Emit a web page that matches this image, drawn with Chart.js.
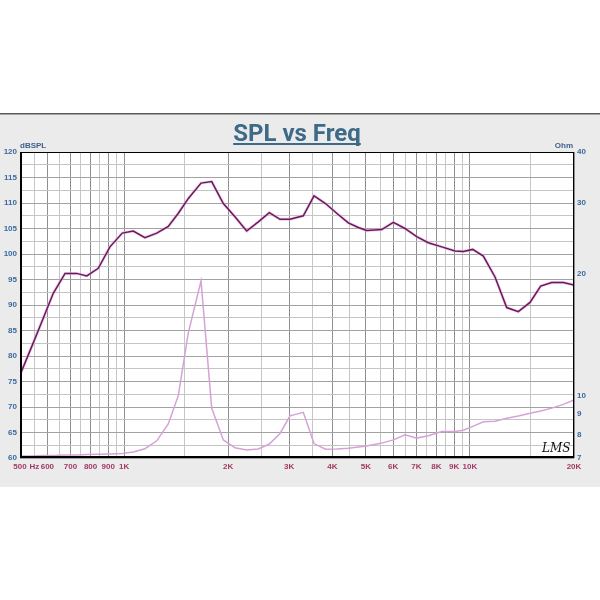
<!DOCTYPE html>
<html>
<head>
<meta charset="utf-8">
<script src="https://cdn.jsdelivr.net/npm/chart.js@4.4.1/dist/chart.umd.min.js"></script>
<style>
html,body{margin:0;padding:0;background:#fff;}
#c{display:block;}
</style>
</head>
<body>
<canvas id="c" width="600" height="600"></canvas>
<script>
// ---- data ----
const freqs = [500, 538, 579, 624, 675, 729, 780, 842, 910, 988, 1063, 1149, 1243, 1342, 1435, 1534, 1669, 1792, 1936, 2092, 2262, 2444, 2630, 2824, 3018, 3298, 3542, 3823, 4119, 4450, 4757, 5030, 5559, 6006, 6490, 7018, 7580, 8292, 9057, 9572, 10190, 10935, 11820, 12776, 13803, 14922, 16020, 17241, 18626, 20000];
const splValues = [76.3, 81.5, 86.8, 92.3, 96.2, 96.2, 95.7, 97.2, 101.4, 104.1, 104.5, 103.2, 104.1, 105.4, 108.0, 110.9, 113.9, 114.2, 109.9, 107.3, 104.5, 106.3, 108.1, 106.8, 106.8, 107.5, 111.4, 109.9, 108.0, 106.1, 105.2, 104.6, 104.8, 106.2, 105.0, 103.4, 102.2, 101.4, 100.6, 100.5, 100.9, 99.6, 95.5, 89.5, 88.7, 90.5, 93.7, 94.4, 94.4, 93.9];
const impedanceValues = [7.08, 7.08, 7.1, 7.1, 7.12, 7.12, 7.14, 7.15, 7.16, 7.18, 7.24, 7.38, 7.72, 8.5, 10.0, 14.3, 19.2, 9.3, 7.76, 7.42, 7.33, 7.37, 7.58, 8.05, 8.9, 9.08, 7.6, 7.36, 7.37, 7.4, 7.45, 7.5, 7.62, 7.76, 7.99, 7.84, 7.95, 8.14, 8.14, 8.2, 8.38, 8.6, 8.63, 8.78, 8.89, 9.03, 9.15, 9.3, 9.5, 9.75];
const xTicks = [500,550,600,650,700,750,800,850,900,950,1000,1500,2000,2500,3000,3500,4000,4500,5000,5500,6000,6500,7000,7500,8000,8500,9000,9500,10000,15000,20000];
const xTickLabels = ['500','Hz','600','','700','','800','','900','','1K','','2K','','3K','','4K','','5K','','6K','','7K','','8K','','9K','','10K','','20K'];
const ohmTicks = [7,8,9,10,20,30,40];
const titleText = 'SPL vs Freq';
const leftUnit = 'dBSPL';
const rightUnit = 'Ohm';
const signature = 'LMS';

const splPts = freqs.map((f,i)=>({x:f,y:splValues[i]}));
const impPts = freqs.map((f,i)=>({x:f,y:impedanceValues[i]}));

const FONT = 'Liberation Sans, Arial, sans-serif';
const blue = '#3b6aa0';
const maroon = '#a23a66';

const decor = {
  id:'decor',
  beforeDraw(chart){
    const ctx = chart.ctx, a = chart.chartArea;
    ctx.save();
    ctx.fillStyle='#ffffff'; ctx.fillRect(0,0,600,600);
    ctx.fillStyle='#ebebeb'; ctx.fillRect(0,114,600,373);
    ctx.fillStyle='#5a5a5a'; ctx.fillRect(0,113,600,1.5);
    ctx.fillStyle='#ffffff'; ctx.fillRect(a.left,a.top,a.right-a.left,a.bottom-a.top);
    ctx.restore();
  },
  afterDraw(chart){
    const ctx = chart.ctx, a = chart.chartArea;
    ctx.save();
    ctx.strokeStyle='#000';
    ctx.lineWidth=1;
    ctx.beginPath();
    ctx.moveTo(a.left,a.top+0.5); ctx.lineTo(a.right,a.top+0.5);
    ctx.moveTo(a.right-0.5,a.top); ctx.lineTo(a.right-0.5,a.bottom);
    ctx.stroke();
    ctx.lineWidth=2;
    ctx.beginPath();
    ctx.moveTo(a.left+1,a.top); ctx.lineTo(a.left+1,a.bottom);
    ctx.moveTo(a.left,a.bottom-1); ctx.lineTo(a.right,a.bottom-1);
    ctx.stroke();
    // title
    ctx.font='bold 24px Roboto, '+FONT;
    ctx.fillStyle='#3d6a87';
    ctx.textAlign='center'; ctx.textBaseline='alphabetic';
    ctx.fillText(titleText,297,141);
    const w = ctx.measureText(titleText).width;
    ctx.fillRect(297-w/2,143,w,2);
    // units
    ctx.font='bold 8px '+FONT;
    ctx.fillStyle='#3d5f8a';
    ctx.textAlign='left'; ctx.textBaseline='middle';
    ctx.fillText(leftUnit,20,146);
    ctx.textAlign='right';
    ctx.fillText(rightUnit,573,146);
    // signature
    ctx.font='italic 12px "DejaVu Serif", serif';
    ctx.fillStyle='#111';
    ctx.textAlign='left'; ctx.textBaseline='alphabetic';
    ctx.fillText(signature,542,452);
    ctx.restore();
  }
};

new Chart(document.getElementById('c'),{
  type:'line',
  data:{datasets:[
    {label:'Impedance',data:impPts,yAxisID:'yOhm',borderColor:'#d6a2d6',borderWidth:1.5,pointRadius:0,tension:0,order:3},
    {label:'SPL glow',data:splPts,yAxisID:'y',borderColor:'rgba(232,170,226,0.6)',borderWidth:3,pointRadius:0,tension:0,order:2},
    {label:'SPL',data:splPts,yAxisID:'y',borderColor:'#681a58',borderWidth:1.5,pointRadius:0,tension:0,order:1}
  ]},
  options:{
    responsive:false, animation:false, devicePixelRatio:1,
    layout:{padding:{top:152,bottom:122,left:0,right:0}},
    plugins:{legend:{display:false},tooltip:{enabled:false},title:{display:false}},
    scales:{
      x:{type:'logarithmic',min:500,max:20000,
        afterBuildTicks:s=>{s.ticks=xTicks.map(v=>({value:v}));},
        afterFit:s=>{s.height=20;},
        border:{display:false},
        grid:{drawTicks:false,color:c=>{const l=xTickLabels[c.index];return (l&&l!=='Hz')?'#8e8e8e':'#c6c6c6';},lineWidth:1},
        ticks:{autoSkip:false,maxRotation:0,minRotation:0,padding:4,color:maroon,font:{family:FONT,size:8,weight:'bold'},
          callback:(v,i)=>xTickLabels[i]}
      },
      y:{type:'linear',position:'left',min:60,max:120,
        afterFit:s=>{s.width=20;},
        border:{display:false},
        grid:{drawTicks:false,color:c=>(c.tick&&c.tick.value%5===0)?'#a2a2a2':'#c4c4c4',lineWidth:1},
        ticks:{stepSize:2.5,autoSkip:false,padding:3,color:blue,font:{family:FONT,size:8,weight:'bold'},
          callback:v=>(v%5===0)?String(v):''}
      },
      yOhm:{type:'logarithmic',position:'right',min:7,max:40,
        afterBuildTicks:s=>{s.ticks=ohmTicks.map(v=>({value:v}));},
        afterFit:s=>{s.width=26;},
        border:{display:false},
        grid:{display:false,drawTicks:false},
        ticks:{autoSkip:false,padding:3,color:blue,font:{family:FONT,size:8,weight:'bold'},
          callback:(v,i)=>String(ohmTicks[i])}
      }
    }
  },
  plugins:[decor]
});
</script>
</body>
</html>
